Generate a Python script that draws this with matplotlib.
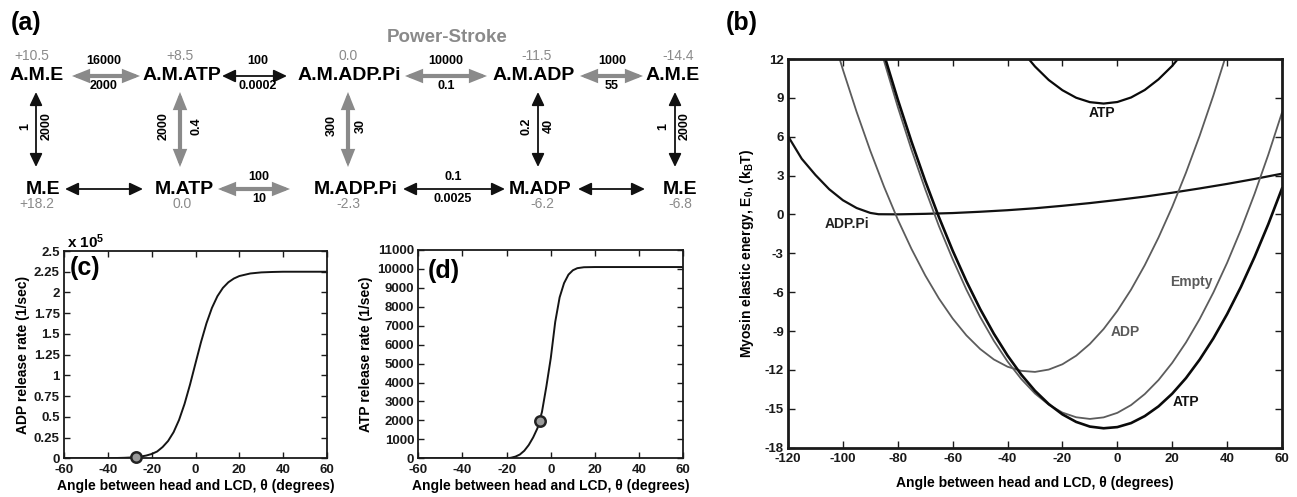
import matplotlib
matplotlib.use('Agg')
import matplotlib.pyplot as plt
from matplotlib.patches import FancyArrowPatch

plt.rcParams['font.family'] = ['Liberation Sans', 'DejaVu Sans']
plt.rcParams['font.weight'] = 'bold'
plt.rcParams['axes.unicode_minus'] = False
plt.rcParams['mathtext.fontset'] = 'custom'
plt.rcParams['mathtext.rm'] = 'Liberation Sans:bold'
plt.rcParams['mathtext.bf'] = 'Liberation Sans:bold'
plt.rcParams['mathtext.it'] = 'Liberation Sans:bold'

# ---------------- Panel (a): kinetic scheme ----------------
top_states = ['A.M.E', 'A.M.ATP', 'A.M.ADP.Pi', 'A.M.ADP', 'A.M.E']
top_energies = ['+10.5', '+8.5', '0.0', '-11.5', '-14.4']
bottom_states = ['M.E', 'M.ATP', 'M.ADP.Pi', 'M.ADP', 'M.E']
bottom_energies = ['+18.2', '0.0', '-2.3', '-6.2', '-6.8']
top_rates_fwd = ['16000', '100', '10000', '1000']
top_rates_bwd = ['2000', '0.0002', '0.1', '55']
top_arrow_gray = [True, False, True, True]
bottom_rates_fwd = ['', '100', '0.1', '']
bottom_rates_bwd = ['', '10', '0.0025', '']
bottom_arrow_gray = [False, True, False, False]
vert_rates_left = ['1', '2000', '300', '0.2', '1']
vert_rates_right = ['2000', '0.4', '30', '40', '2000']
vert_arrow_gray = [False, True, True, False, False]
stroke_label = 'Power-Stroke'

# ---------------- Panel (c): ADP release rate (x 1e5 1/sec) ----------------
c_theta = [-60, -40, -32.5, -30, -27.5, -25, -22.5, -20, -17.5, -15, -12.5, -10, -7.5, -5,
           -2.5, 0, 2.5, 5, 7.5, 10, 12.5, 15, 17.5, 20, 25, 30, 35, 40, 60]
c_rate = [0.0, 0.001, 0.006, 0.009, 0.014, 0.021, 0.033, 0.052, 0.082, 0.136, 0.209, 0.315,
          0.463, 0.656, 0.889, 1.146, 1.40, 1.628, 1.814, 1.955, 2.055, 2.123, 2.168, 2.198,
          2.229, 2.242, 2.247, 2.25, 2.25]
c_marker = (-27.0, 0.01)

# ---------------- Panel (d): ATP release rate (1/sec) ----------------
d_theta = [-60, -20, -18, -16, -14, -12, -10, -8, -6, -4, -2, 0, 2, 4, 6, 8, 10, 12, 15, 20, 60]
d_rate = [0, 0, 30, 90, 200, 400, 700, 1100, 1600, 2450, 3800, 5300, 7200, 8500, 9250, 9700,
          9930, 10040, 10090, 10100, 10100]
d_marker = (-5.0, 1950)

# ---------------- Panel (b): myosin elastic energy (kBT) ----------------
atp_high_theta = [-35, -30, -25, -20, -15, -10, -5, 0, 5, 10, 15, 20, 25]
atp_high_E = [12.69, 11.42, 10.38, 9.59, 9.01, 8.67, 8.56, 8.68, 9.03, 9.61, 10.43, 11.47, 12.75]

atp_low_theta = [-90, -85, -80, -75, -70, -65, -60, -55, -50, -45, -40, -35, -30, -25, -20, -15,
                 -10, -5, 0, 5, 10, 15, 20, 25, 30, 35, 40, 45, 50, 55, 60]
atp_low_E = [16.03, 12.34, 8.87, 5.62, 2.59, -0.21, -2.79, -5.15, -7.29, -9.20, -10.89, -12.36,
             -13.61, -14.63, -15.43, -16.01, -16.37, -16.50, -16.41, -16.10, -15.56, -14.81,
             -13.83, -12.63, -11.20, -9.56, -7.69, -5.60, -3.28, -0.75, 2.01]

empty_theta = [-90, -85, -80, -75, -70, -65, -60, -55, -50, -45, -40, -35, -30, -25, -20, -15,
               -10, -5, 0, 5, 10, 15, 20, 25, 30, 35, 40, 45, 50, 55, 60]
empty_E = [15.60, 11.85, 8.30, 5.00, 1.95, -0.90, -3.45, -5.80, -7.90, -9.75, -11.35, -12.70,
           -13.82, -14.68, -15.29, -15.65, -15.78, -15.66, -15.31, -14.71, -13.86, -12.78,
           -11.45, -9.88, -8.07, -6.02, -3.73, -1.19, 1.59, 4.61, 7.87]

adp_theta = [-105, -100, -95, -90, -85, -80, -75, -70, -65, -60, -55, -50, -45, -40, -35, -30,
             -25, -20, -15, -10, -5, 0, 5, 10, 15, 20, 25, 30, 35, 40]
adp_E = [14.68, 11.18, 7.92, 4.91, 2.14, -0.39, -2.66, -4.70, -6.49, -8.03, -9.33, -10.38, -11.19,
         -11.75, -12.07, -12.15, -11.97, -11.56, -10.90, -9.99, -8.84, -7.44, -5.80, -3.91, -1.78,
         0.59, 3.22, 6.08, 9.19, 12.55]

adppi_theta = [-120, -115, -110, -105, -100, -95, -90, -87, -80, -70, -60, -50, -40, -30, -20,
               -10, 0, 10, 20, 30, 40, 50, 60]
adppi_E = [6.05, 4.3, 3.05, 1.95, 1.1, 0.5, 0.12, 0.02, 0.01, 0.05, 0.11, 0.21, 0.33, 0.48, 0.67,
           0.88, 1.12, 1.38, 1.68, 2.01, 2.36, 2.74, 3.15]

curve_labels = ['ATP', 'ADP.Pi', 'Empty', 'ADP', 'ATP']
curve_label_pos = [(-5.7, 7.8), (-98.6, -0.7), (27.1, -5.2), (2.8, -9.05), (24.9, -14.5)]

# ---------------- Figure ----------------
W, H = 1297, 497
fig = plt.figure(figsize=(W / 100, H / 100), dpi=100)

GRAY = '#8a8a8a'
LGRAY = '#5c5c5c'
TICK_FS = 9.5
LAB_FS = 10


def px_axes(left, top, right, bottom):
    return fig.add_axes([left / W, 1 - bottom / H, (right - left) / W, (bottom - top) / H])


def style_axes(ax, spine_lw):
    for s in ax.spines.values():
        s.set_linewidth(spine_lw)
        s.set_color('#1a1a1a')
    ax.tick_params(direction='in', top=True, right=True, length=4, width=1.0,
                   labelsize=TICK_FS, pad=3, colors='#1a1a1a')
    ax.tick_params(axis='x', pad=4)
    for lbl in ax.get_xticklabels() + ax.get_yticklabels():
        lbl.set_fontweight('bold')


xlabel = 'Angle between head and LCD, θ (degrees)'

# Panel (c)
ax_c = px_axes(64, 251, 327, 458.3)
ax_c.plot(c_theta, c_rate, color='#151515', lw=1.4)
ax_c.plot([c_marker[0]], [c_marker[1]], 'o', ms=7.5, mfc='#9a9a9a', mec='#222222', mew=1.8,
          clip_on=False, zorder=5)
ax_c.set_xlim(-60, 60)
ax_c.set_ylim(0, 2.5)
ax_c.set_xticks([-60, -40, -20, 0, 20, 40, 60])
ax_c.set_yticks([0, 0.25, 0.5, 0.75, 1, 1.25, 1.5, 1.75, 2, 2.25, 2.5])
ax_c.set_yticklabels(['0', '0.25', '0.5', '0.75', '1', '1.25', '1.5', '1.75', '2', '2.25', '2.5'])
style_axes(ax_c, 1.3)
ax_c.set_xlabel(xlabel, fontsize=LAB_FS, fontweight='bold', labelpad=2)
ax_c.set_ylabel('ADP release rate (1/sec)', fontsize=LAB_FS, fontweight='bold', labelpad=3)
ax_c.text(0.01, 1.0, r'x 10$^{\mathbf{5}}$', transform=ax_c.transAxes, ha='left', va='bottom',
          fontsize=11, fontweight='bold')
ax_c.text(0.022, 0.975, '(c)', transform=ax_c.transAxes, ha='left', va='top', fontsize=18,
          fontweight='bold')

# Panel (d)
ax_d = px_axes(418.3, 250, 683.3, 458.3)
ax_d.plot(d_theta, d_rate, color='#151515', lw=1.4)
ax_d.plot([d_marker[0]], [d_marker[1]], 'o', ms=7.5, mfc='#9a9a9a', mec='#222222', mew=1.8,
          zorder=5)
ax_d.set_xlim(-60, 60)
ax_d.set_ylim(0, 11000)
ax_d.set_xticks([-60, -40, -20, 0, 20, 40, 60])
ax_d.set_yticks(range(0, 11001, 1000))
style_axes(ax_d, 1.3)
ax_d.set_xlabel(xlabel, fontsize=LAB_FS, fontweight='bold', labelpad=2)
ax_d.set_ylabel('ATP release rate (1/sec)', fontsize=LAB_FS, fontweight='bold', labelpad=3)
ax_d.text(0.037, 0.955, '(d)', transform=ax_d.transAxes, ha='left', va='top', fontsize=18,
          fontweight='bold')

# Panel (b)
ax_b = px_axes(788, 59, 1282, 447.7)
ax_b.plot(adppi_theta, adppi_E, color='#111111', lw=1.6)
ax_b.plot(adp_theta, adp_E, color=LGRAY, lw=1.3)
ax_b.plot(empty_theta, empty_E, color=LGRAY, lw=1.3)
ax_b.plot(atp_low_theta, atp_low_E, color='#0a0a0a', lw=1.9)
ax_b.plot(atp_high_theta, atp_high_E, color='#0a0a0a', lw=1.6)
label_colors = ['#111111', '#222222', '#5a5a5a', '#5a5a5a', '#111111']
for txt, (lx, ly), col in zip(curve_labels, curve_label_pos, label_colors):
    ax_b.text(lx, ly, txt, ha='center', va='center', fontsize=10, fontweight='bold', color=col)
ax_b.set_xlim(-120, 60)
ax_b.set_ylim(-18, 12)
ax_b.set_xticks(range(-120, 61, 20))
ax_b.set_yticks(range(-18, 13, 3))
style_axes(ax_b, 2.0)
ax_b.tick_params(length=5)
ax_b.tick_params(axis='x', pad=4)
ax_b.set_xlabel(xlabel, fontsize=LAB_FS, fontweight='bold', labelpad=8)
ax_b.set_ylabel(r'Myosin elastic energy, E$_{\mathbf{0}}$, (k$_{\mathbf{B}}$T)', fontsize=LAB_FS,
                fontweight='bold', labelpad=6)

# Overlay for the scheme and panel letters (pixel coordinates)
ax_a = fig.add_axes([0, 0, 1, 1])
ax_a.set_xlim(0, W)
ax_a.set_ylim(H, 0)
ax_a.axis('off')

ax_a.text(26, 23, '(a)', ha='center', va='center', fontsize=18, fontweight='bold')
ax_a.text(742, 23, '(b)', ha='center', va='center', fontsize=18, fontweight='bold')
ax_a.text(447, 37, stroke_label, ha='center', va='center', fontsize=13.5, fontweight='bold',
          color=GRAY)

top_x = [37, 182, 349, 534, 673]
top_en_x = [32, 180, 348, 537, 678]
bot_x = [43, 184, 356, 540, 680]
bot_en_x = [37, 182, 348, 542, 680]
for x, s in zip(top_x, top_states):
    ax_a.text(x, 75, s, ha='center', va='center', fontsize=14, fontweight='bold')
for x, s in zip(top_en_x, top_energies):
    ax_a.text(x, 56, s, ha='center', va='center', fontsize=10, fontweight='normal', color=GRAY)
for x, s in zip(bot_x, bottom_states):
    ax_a.text(x, 189, s, ha='center', va='center', fontsize=14, fontweight='bold')
for x, s in zip(bot_en_x, bottom_energies):
    ax_a.text(x, 204, s, ha='center', va='center', fontsize=10, fontweight='normal', color=GRAY)


def arrow(p0, p1, gray):
    if gray:
        st = '<|-|>,head_length=0.75,head_width=0.3'
        a = FancyArrowPatch(p0, p1, arrowstyle=st, mutation_scale=10, lw=3.0, color=GRAY,
                            shrinkA=0, shrinkB=0, joinstyle='miter')
    else:
        st = '<|-|>,head_length=0.8,head_width=0.38'
        a = FancyArrowPatch(p0, p1, arrowstyle=st, mutation_scale=10, lw=1.3, color='#111111',
                            shrinkA=0, shrinkB=0)
    ax_a.add_patch(a)


top_arrow_x = [(72, 140), (222, 287), (405, 487), (580, 643)]
top_label_x = [104, 258, 446, 612]
for (x0, x1), g, lx, f, b in zip(top_arrow_x, top_arrow_gray, top_label_x, top_rates_fwd,
                                 top_rates_bwd):
    arrow((x0, 76), (x1, 76), g)
    ax_a.text(lx, 61.5, f, ha='center', va='center', fontsize=9, fontweight='bold')
    ax_a.text(lx, 86, b, ha='center', va='center', fontsize=9, fontweight='bold')

bot_arrow_x = [(65, 143), (218, 290), (403, 505), (578, 645)]
bot_label_x = [104, 259, 453, 612]
for (x0, x1), g, lx, f, b in zip(bot_arrow_x, bottom_arrow_gray, bot_label_x, bottom_rates_fwd,
                                 bottom_rates_bwd):
    arrow((x0, 189), (x1, 189), g)
    if f:
        ax_a.text(lx, 177.5, f, ha='center', va='center', fontsize=9, fontweight='bold')
    if b:
        ax_a.text(lx, 199, b, ha='center', va='center', fontsize=9, fontweight='bold')

vert_x = [36, 180, 348, 538, 675]
vert_lx = [25, 164, 332, 527, 663]
vert_rx = [47, 196, 361, 549, 685]
for x, g, lx, rx, l, r in zip(vert_x, vert_arrow_gray, vert_lx, vert_rx, vert_rates_left,
                              vert_rates_right):
    arrow((x, 92), (x, 167), g)
    ax_a.text(lx, 126, l, ha='center', va='center', rotation=90, fontsize=9, fontweight='bold')
    ax_a.text(rx, 126, r, ha='center', va='center', rotation=90, fontsize=9, fontweight='bold')

fig.savefig('out.png', dpi=100)
